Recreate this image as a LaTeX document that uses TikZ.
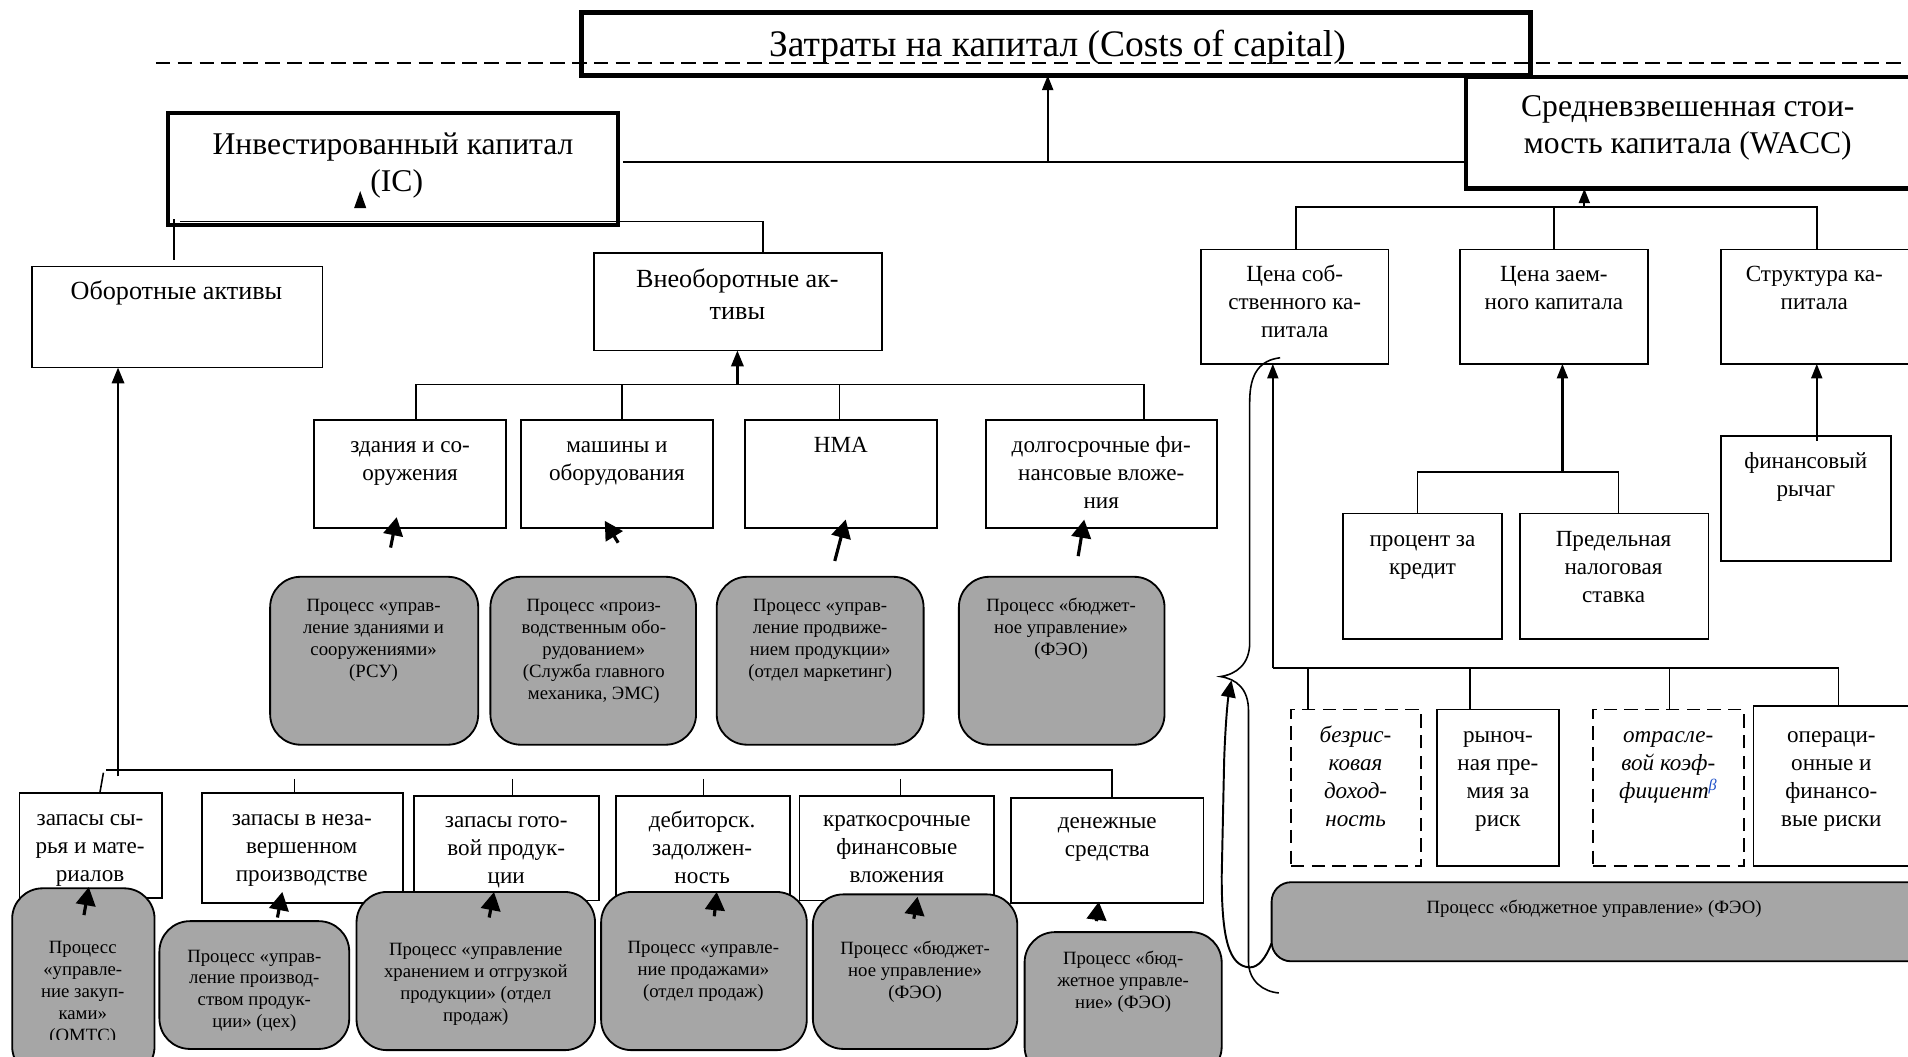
\documentclass[tikz,border=0pt]{standalone}
\usepackage{fontspec}
\setmainfont{Liberation Serif}
\usetikzlibrary{arrows.meta,fit,calc}
\definecolor{procgray}{RGB}{166,166,166}
\definecolor{betablue}{RGB}{30,80,200}
\begin{document}
\begin{tikzpicture}[x=1pt,y=-1pt,
  wbox/.style={draw, line width=1.5pt, inner sep=0pt, outer sep=0pt},
  dbox/.style={wbox, dash pattern=on 11pt off 6pt},
  heavy/.style={draw, line width=#1, inner sep=0pt, outer sep=0pt},
  gbox/.style={draw, line width=1.5pt, inner sep=0pt, outer sep=0pt, fill=procgray, rounded corners=25pt},
  txt/.style={align=center, anchor=north, inner sep=0pt, outer sep=0pt},
  tA/.style={txt, font=\fontsize{19}{23}\selectfont},
  tAL/.style={txt, font=\fontsize{21.5}{26}\selectfont},
  tAi/.style={txt, font=\fontsize{19}{23}\selectfont\itshape},
  tB/.style={txt, font=\fontsize{15.4}{18}\selectfont},
  tC/.style={txt, font=\fontsize{26}{30}\selectfont},
  ln/.style={line width=1.3pt},
  arr/.style={line width=1.8pt, -{Triangle[width=9pt,length=12pt]}},
  arrk/.style={line width=2.2pt, -{Triangle[width=10pt,length=13pt]}},
  carr/.style={line width=2.6pt, -{Triangle[width=16pt,length=15pt]}},
]
\useasboundingbox (0,0) rectangle (1568,868);
\clip (0,0) rectangle (1568,868);

% ---------- title ----------
\node[heavy=4pt, fit={(478,10) (1258,62)}] (tit) {};
\node[inner sep=0pt, font=\fontsize{30.8}{35}\selectfont] (tit-t) at (869,39) {Затраты на капитал (Costs of capital)};
\draw[ln, dash pattern=on 12pt off 6pt] (128,52) -- (1568,52);

% ---------- invested capital ----------
\node[heavy=3.5pt, fit={(138,93) (508,185)}] (ic) {};
\node[tC] (ic-t) at (323,106) {\strut Инвестированный капитал\\\hspace*{6pt}(IC)};
\fill (291,171) -- (301,171) -- (296,157) -- cycle;

% ---------- WACC ----------
\node[heavy=3.5pt, fit={(1205,63) (1585,155)}] (wacc) {};
\node[tC] (wacc-t) at (1387,75) {\strut Средневзвешенная стои-\\мость капитала (WACC)};

\coordinate (jt) at (861,133);
\draw[ln] ($(ic.east)+(4,-6)$) -- ($(wacc.west)+(-2,24)$);
\draw[arr] (jt) -- (jt |- tit.south);

% ---------- left: assets ----------
\node[wbox, fit={(26,219) (265,302)}] (ob) {};
\node[tAL] (ob-t) at (145,228) {\strut Оборотные активы};
\node[wbox, fit={(488,208) (725,288)}] (vo) {};
\node[tAL] (vo-t) at (606,218) {\strut Внеоборотные ак-\\тивы};

\draw[ln] ($(ic.south west)+(10,-3)$) -- ($(vo.north west)+(139,-26)$) -- ($(vo.north west)+(139,0)$);
\draw[ln] ($(ic.south west)+(5,-5)$) -- ($(ob.north west)+(117,-5)$);

% non-current items
\node[wbox, fit={(258,345) (416,434)}] (zd) {};
\node[tA] (zd-t) at (337,356) {\strut здания и со-\\оружения};
\node[wbox, fit={(428,345) (586,434)}] (mo) {};
\node[tA] (mo-t) at (507,356) {\strut машины и\\оборудования};
\node[wbox, fit={(612,345) (770,434)}] (nma) {};
\node[tA] (nma-t) at (691,356) {\strut НМА};
\node[wbox, fit={(810,345) (1000,434)}] (dfv) {};
\node[tA] (dfv-t) at (905,356) {\strut долгосрочные фи-\\нансовые вложе-\\ния};

\coordinate (jv) at (606,316);
\draw[arrk] (jv) -- (jv |- vo.south);
\draw[ln] ($(zd.north west)+(84,0)$) -- ++(0,-29) -- ($(dfv.north west)+(130,-29)$) -- ($(dfv.north west)+(130,0)$);
\draw[ln] ($(mo.north west)+(83,0)$) -- ++(0,-29);
\draw[ln] ($(nma.north west)+(78,0)$) -- ++(0,-29);

% process boxes (upper row)
\node[gbox, fit={(222,474) (393,612)}] (g1) {};
\node[tB] (g1-t) at (307,490) {\strut Процесс «управ-\\ление зданиями и\\сооружениями»\\(РСУ)};
\node[gbox, fit={(403,474) (572,612)}] (g2) {};
\node[tB] (g2-t) at (488,490) {\strut Процесс «произ-\\водственным обо-\\рудованием»\\(Служба главного\\механика, ЭМС)};
\node[gbox, fit={(589,474) (759,612)}] (g3) {};
\node[tB] (g3-t) at (674,490) {\strut Процесс «управ-\\ление продвиже-\\нием продукции»\\(отдел маркетинг)};
\node[gbox, fit={(788,474) (957,612)}] (g4) {};
\node[tB] (g4-t) at (872,490) {\strut Процесс «бюджет-\\ное управление»\\(ФЭО)};

\coordinate (a-zd) at (321,450);
\coordinate (a-mo) at (508,446);
\coordinate (a-nma) at (686,461);
\coordinate (a-dfv) at (886,457);
\draw[carr] (a-zd) -- ($(zd.south west)+(68,-9)$);
\draw[carr] (a-mo) -- ($(mo.south west)+(69,-6)$);
\draw[carr] (a-nma) -- ($(nma.south west)+(83,-7)$);
\draw[carr] (a-dfv) -- ($(dfv.south west)+(81,-7)$);

% current items
\node[wbox, fit={(16,652) (133,738)}] (b1) {};
\node[tA] (b1-t) at (74,662) {\strut запасы сы-\\рья и мате-\\риалов};
\node[wbox, fit={(166,652) (331,742)}] (b2) {};
\node[tA] (b2-t) at (248,662) {\strut запасы в неза-\\вершенном\\производстве};
\node[wbox, fit={(340,654) (492,740)}] (b3) {};
\node[tA] (b3-t) at (416,664) {\strut запасы гото-\\вой продук-\\ции};
\node[wbox, fit={(506,654) (649,740)}] (b4) {};
\node[tA] (b4-t) at (577,664) {\strut дебиторск.\\задолжен-\\ность};
\node[wbox, fit={(657,654) (817,740)}] (b5) {};
\node[tA] (b5-t) at (737,663) {\strut краткосрочные\\финансовые\\вложения};
\node[wbox, fit={(831,656) (989,742)}] (b6) {};
\node[tA] (b6-t) at (910,665) {\strut денежные\\средства};

\coordinate (jo) at (97,638);
\draw[arrk] (jo) -- (jo |- ob.south);
\draw[line width=2pt] ($(b1.north west)+(71,-19)$) -- ($(b6.north west)+(83,-23)$) -- ($(b6.north west)+(83,0)$);
\draw[ln] ($(b1.north west)+(69,-17)$) -- ($(b1.north west)+(66,0)$);
\draw[ln] ($(b2.north west)+(76,-12)$) -- ($(b2.north west)+(76,0)$);
\draw[ln] ($(b3.north west)+(81,-14)$) -- ($(b3.north west)+(81,0)$);
\draw[ln] ($(b4.north west)+(72,-14)$) -- ($(b4.north west)+(72,0)$);
\draw[ln] ($(b5.north west)+(83,-14)$) -- ($(b5.north west)+(83,0)$);

% process boxes (lower row)
\node[gbox, fit={(10,730) (127,885)}] (p1) {};
\begin{scope}
\clip (12,732) rectangle (125,854);
\node[tB] (p1-t) at (68,771) {\strut Процесс\\«управле-\\ние закуп-\\ками»\\(ОМТС)};
\end{scope}
\node[gbox, fit={(131,757) (287,862)}] (p2) {};
\node[tB] (p2-t) at (209,778) {\strut Процесс «управ-\\ление производ-\\ством продук-\\ции» (цех)};
\node[gbox, fit={(293,733) (489,863)}] (p3) {};
\node[tB] (p3-t) at (391,773) {\strut Процесс «управление\\хранением и отгрузкой\\продукции» (отдел\\продаж)};
\node[gbox, fit={(494,733) (663,863)}] (p4) {};
\node[tB] (p4-t) at (578,771) {\strut Процесс «управле-\\ние продажами»\\(отдел продаж)};
\node[gbox, fit={(668,735) (836,862)}] (p5) {};
\node[tB] (p5-t) at (752,772) {\strut Процесс «бюджет-\\ное управление»\\(ФЭО)};
\node[gbox, fit={(842,766) (1004,885)}] (p6) {};
\node[tB] (p6-t) at (923,780) {\strut Процесс «бюд-\\жетное управле-\\ние» (ФЭО)};

\coordinate (a-b1) at (69,752);
\coordinate (a-b2) at (228,754);
\coordinate (a-b3) at (402,754);
\coordinate (a-b4) at (587,753);
\coordinate (a-b5) at (751,755);
\coordinate (a-b6) at (901,757);
\draw[carr] (a-b1) -- ($(b1.south west)+(57,-9)$);
\draw[carr] (a-b2) -- ($(b2.south west)+(66,-9)$);
\draw[carr] (a-b3) -- ($(b3.south west)+(66,-7)$);
\draw[carr] (a-b4) -- ($(b4.south west)+(83,-7)$);
\draw[carr] (a-b5) -- ($(b5.south west)+(97,-3)$);
\draw[carr] (a-b6) -- ($(b6.south west)+(72,-1)$);

% ---------- right: WACC components ----------
\node[wbox, fit={(987,205) (1141,299)}] (cs) {};
\node[tA] (cs-t) at (1064,215) {\strut Цена соб-\\ственного ка-\\питала};
\node[wbox, fit={(1200,205) (1354,299)}] (cz) {};
\node[tA] (cz-t) at (1277,215) {\strut Цена заем-\\ного капитала};
\node[wbox, fit={(1414,205) (1572,299)}] (sk) {};
\node[tA] (sk-t) at (1491,215) {\strut Структура ка-\\питала};

\coordinate (jw) at (1302,170);
\draw[ln] ($(cs.north west)+(78,0)$) |- ($(sk.north west)+(79,-35)$) -- ($(sk.north west)+(79,0)$);
\draw[ln] ($(cz.north west)+(77,0)$) -- ++(0,-35);
\draw[arr] (jw) -- (jw |- wacc.south);

\node[wbox, fit={(1104,422) (1234,525)}] (pk) {};
\node[tA] (pk-t) at (1169,433) {\strut процент за\\кредит};
\node[wbox, fit={(1249,422) (1404,525)}] (pn) {};
\node[tA] (pn-t) at (1326,433) {\strut Предельная\\налоговая\\ставка};
\node[wbox, fit={(1414,358) (1554,461)}] (fr) {};
\node[tA] (fr-t) at (1484,369) {\strut финансовый\\рычаг};

\coordinate (jz) at (1284,388);
\draw[ln] ($(pk.north west)+(61,0)$) |- ($(pn.north west)+(81,-34)$) -- ($(pn.north west)+(81,0)$);
\draw[arr] (jz) -- ($(cz.south west)+(84,0)$);
\draw[arr] ($(fr.north west)+(79,4)$) -- ($(sk.south west)+(79,0)$);

\node[dbox, fit={(1061,583) (1168,712)}] (br) {};
\node[tAi] (br-t) at (1114,594) {\strut безрис-\\ковая\\доход-\\ность};
\node[wbox, fit={(1181,583) (1281,712)}] (rp) {};
\node[tA] (rp-t) at (1231,594) {\strut рыноч-\\ная пре-\\мия за\\риск};
\node[dbox, fit={(1309,583) (1433,712)}] (ok) {};
\node[tAi] (ok-t) at (1371,594) {\strut отрасле-\\вой коэф-\\фициент\textsuperscript{\textcolor{betablue}{β}}};
\node[wbox, fit={(1441,580) (1575,712)}] (or) {};
\node[tA] (or-t) at (1505,594) {\strut операци-\\онные и\\финансо-\\вые риски};

\coordinate (je) at (1046,549);
\draw[arr] (je) -- ($(cs.south west)+(59,0)$);
\draw[ln] (je) -- ($(or.north west)+(70,-31)$) -- ($(or.north west)+(70,0)$);
\draw[ln] ($(br.north west)+(14,0)$) -- ++(0,-34);
\draw[ln] ($(rp.north west)+(27,0)$) -- ++(0,-34);
\draw[ln] ($(ok.north west)+(63,0)$) -- ++(0,-34);

\node[gbox, rounded corners=16pt, fit={(1045,725) (1590,790)}] (bg) {};
\node[tB] (bg-t) at (1310,738) {\strut Процесс «бюджетное управление» (ФЭО)};

% brace
\draw[ln] (1052,294) .. controls (1036,296) and (1027,306) .. (1027,330) -- (1027,528)
  .. controls (1027,546) and (1016,554) .. (1003,556)
  .. controls (1016,558) and (1026,566) .. (1026,584) -- (1026,790)
  .. controls (1026,806) and (1038,815) .. (1051,816);
% loop arrow from the budgeting process to the brace
\coordinate (brtip) at (1012,559);
\draw[line width=1.6pt, -{Triangle[width=12pt,length=14pt]}] ($(bg.north west)+(0,50)$)
  .. controls (1040,788) and (1034,795) .. (1027,795)
  .. controls (1010,794) and (1004,772) .. (1004,720) -- (1006,625)
  .. controls (1007,595) and (1009,575) .. (brtip);
\end{tikzpicture}
\end{document}
